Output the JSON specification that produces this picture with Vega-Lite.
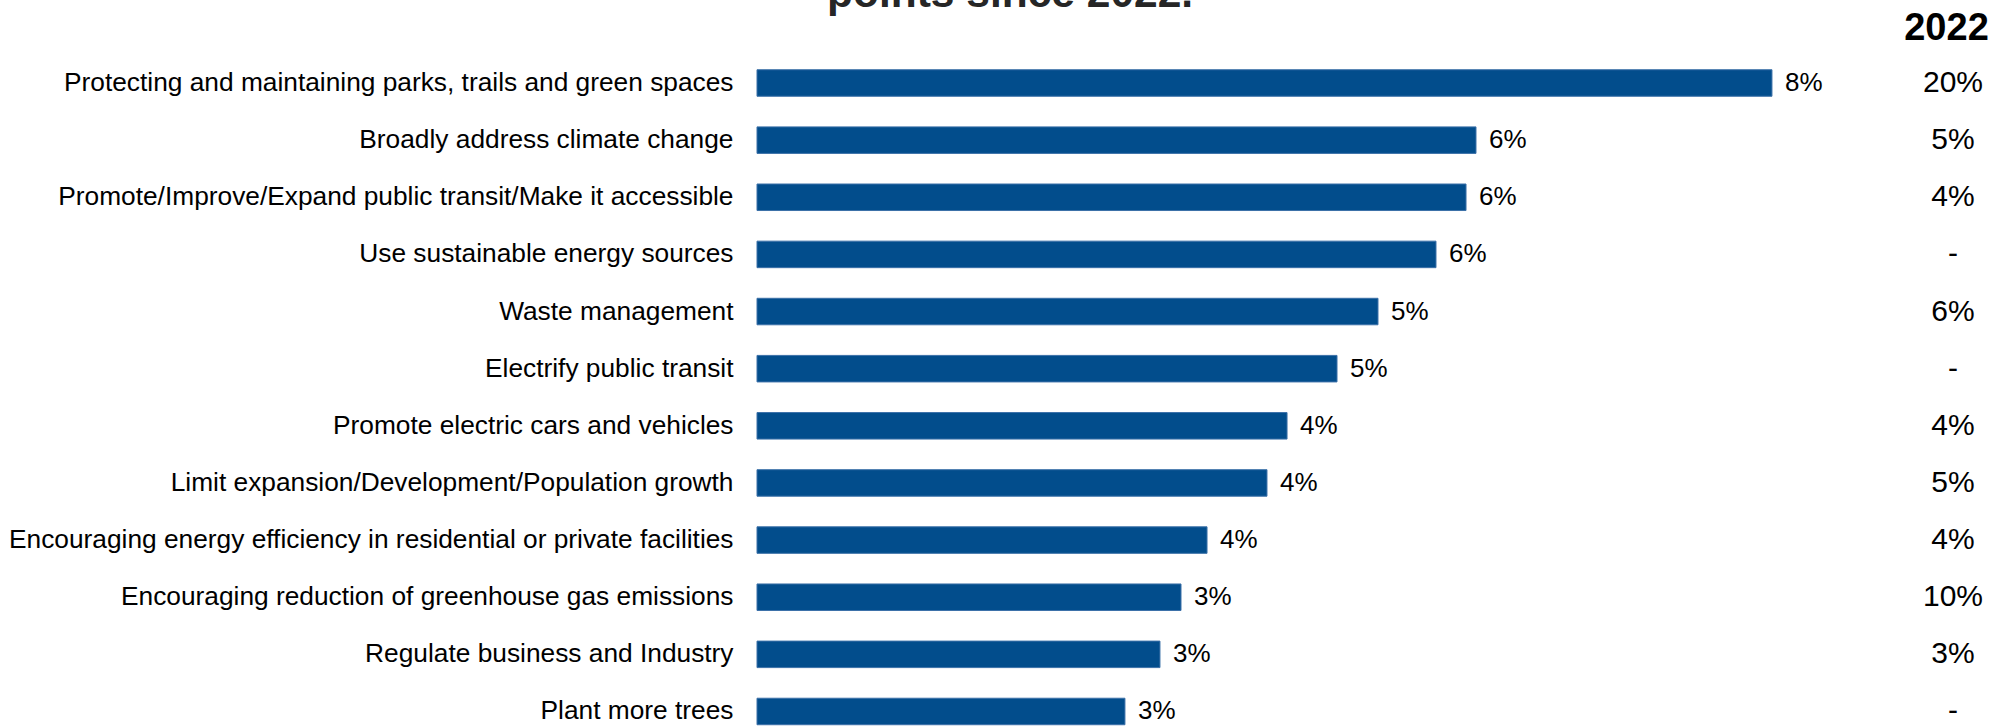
{
  "$schema": "https://vega.github.io/schema/vega-lite/v6.json",
  "autosize": {"type": "none"},
  "padding": {"left": 757, "top": 54, "right": 0, "bottom": 0},
  "width": 1250,
  "height": 672,
  "background": "white",
  "config": {
    "font": "Liberation Sans",
    "view": {"stroke": null}
  },
  "title": {
    "text": "points since 2022.",
    "anchor": "start",
    "frame": "group",
    "dx": 70,
    "dy": 40,
    "fontSize": 42.5,
    "fontWeight": "bold",
    "color": "#262626",
    "baseline": "alphabetic",
    "offset": 0
  },
  "data": {
    "values": [
      {"item": "Protecting and maintaining parks, trails and green spaces", "share": 0.08347, "y2022": "20%"},
      {"item": "Broadly address climate change\u00a0", "share": 0.05913, "y2022": "5%"},
      {"item": "Promote/Improve/Expand public transit/Make it accessible", "share": 0.05831, "y2022": "4%"},
      {"item": "Use sustainable energy sources", "share": 0.05584, "y2022": "-"},
      {"item": "Waste management", "share": 0.05107, "y2022": "6%"},
      {"item": "Electrify public transit", "share": 0.0477, "y2022": "-"},
      {"item": "Promote electric cars and vehicles\u00a0", "share": 0.04359, "y2022": "4%"},
      {"item": "Limit expansion/Development/Population growth", "share": 0.04194, "y2022": "5%"},
      {"item": "Encouraging energy efficiency in residential or private facilities", "share": 0.03701, "y2022": "4%"},
      {"item": "Encouraging reduction of greenhouse gas emissions", "share": 0.03487, "y2022": "10%"},
      {"item": "Regulate business and Industry", "share": 0.03314, "y2022": "3%"},
      {"item": "Plant more trees", "share": 0.03026, "y2022": "-"}
    ]
  },
  "encoding": {
    "y": {
      "field": "item",
      "type": "nominal",
      "sort": null,
      "scale": {"paddingInner": 0.536, "paddingOuter": 0.1488, "align": 0.926},
      "axis": {
        "title": null,
        "ticks": false,
        "domain": false,
        "labelFontSize": 26.3,
        "labelColor": "#000000",
        "labelPadding": 24,
        "labelLimit": 0
      }
    }
  },
  "layer": [
    {
      "mark": {"type": "bar", "color": "#024D8C", "stroke": "#3b70a8", "strokeWidth": 1},
      "encoding": {
        "x": {
          "field": "share",
          "type": "quantitative",
          "scale": {"domain": [0, 0.1028], "nice": false, "zero": true},
          "axis": {
            "orient": "top",
            "title": "2022",
            "titleFontSize": 38,
            "titleFontWeight": "bold",
            "titleColor": "#000000",
            "titleX": 1189,
            "titleY": -15,
            "titleAlign": "center",
            "titleBaseline": "alphabetic",
            "labels": false,
            "ticks": false,
            "domain": false,
            "grid": false
          }
        }
      }
    },
    {
      "mark": {"type": "text", "align": "left", "baseline": "middle", "dx": 13, "fontSize": 26, "color": "#000000"},
      "encoding": {
        "x": {"field": "share", "type": "quantitative"},
        "text": {"field": "share", "type": "quantitative", "format": ".0%"}
      }
    },
    {
      "mark": {"type": "text", "align": "center", "baseline": "middle", "fontSize": 30, "color": "#000000"},
      "encoding": {
        "x": {"datum": 0.09836},
        "text": {"field": "y2022", "type": "nominal"}
      }
    }
  ]
}
